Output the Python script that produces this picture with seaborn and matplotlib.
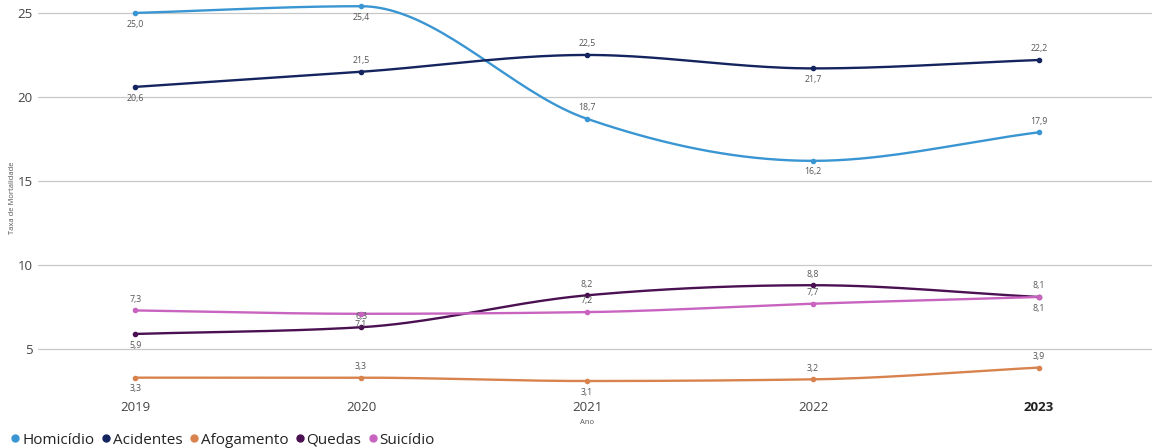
import numpy as np
import pandas as pd
import matplotlib.pyplot as plt
import seaborn as sns
from matplotlib.lines import Line2D

anos = [2019, 2020, 2021, 2022, 2023]
homicidio = [25.0, 25.4, 18.7, 16.2, 17.9]
acidentes = [20.6, 21.5, 22.5, 21.7, 22.2]
afogamento = [3.3, 3.3, 3.1, 3.2, 3.9]
quedas = [5.9, 6.3, 8.2, 8.8, 8.1]
suicidio = [7.3, 7.1, 7.2, 7.7, 8.1]

series = ["Homicídio", "Acidentes", "Afogamento", "Quedas", "Suicídio"]
cores = ["#3A96D2", "#14245E", "#D8834E", "#4A1052", "#C864C0"]
# +1 = rótulo acima do ponto, -1 = abaixo
lado = {
    "Homicídio": [-1, -1, 1, -1, 1],
    "Acidentes": [-1, 1, 1, -1, 1],
    "Afogamento": [-1, 1, -1, 1, 1],
    "Quedas": [-1, 1, 1, 1, 1],
    "Suicídio": [1, -1, 1, 1, -1],
}

df = pd.DataFrame({"Ano": anos, "Homicídio": homicidio, "Acidentes": acidentes,
                   "Afogamento": afogamento, "Quedas": quedas, "Suicídio": suicidio})


def monotone_curve(x, y, n=40):
    """Curva suave monotone-x (como o visual original), só para o traçado."""
    x = np.asarray(x, float)
    y = np.asarray(y, float)
    h = np.diff(x)
    d = np.diff(y) / h
    m = np.zeros_like(y)
    m[0], m[-1] = d[0], d[-1]
    for i in range(1, len(y) - 1):
        if d[i - 1] * d[i] <= 0:
            m[i] = 0
        else:
            m[i] = np.sign(d[i - 1]) * min(2 * abs(d[i - 1]), 2 * abs(d[i]),
                                           abs((h[i - 1] * d[i] + h[i] * d[i - 1]) / (h[i - 1] + h[i])))
    xs, ys = [], []
    for i in range(len(x) - 1):
        t = np.linspace(0, 1, n)
        h00 = 2 * t**3 - 3 * t**2 + 1
        h10 = t**3 - 2 * t**2 + t
        h01 = -2 * t**3 + 3 * t**2
        h11 = t**3 - t**2
        xs.append(x[i] + t * h[i])
        ys.append(h00 * y[i] + h10 * h[i] * m[i] + h01 * y[i + 1] + h11 * h[i] * m[i + 1])
    return np.concatenate(xs), np.concatenate(ys)


sns.set_style("white")
plt.rcParams["font.family"] = ["Open Sans", "DejaVu Sans"]

fig = plt.figure(figsize=(11.52, 4.48), dpi=100)
ax = fig.add_axes([0.033, 0.118, 0.967, 0.882])

for nome, cor in zip(series, cores):
    cx, cy = monotone_curve(df["Ano"], df[nome])
    sns.lineplot(x=cx, y=cy, ax=ax, color=cor, linewidth=1.7, sort=False)
    ax.scatter(df["Ano"], df[nome], color=cor, s=9, zorder=3)
    for xa, v, s in zip(df["Ano"], df[nome], lado[nome]):
        ax.annotate(f"{v:.1f}".replace(".", ","), (xa, v), xytext=(0, 8 * s),
                    textcoords="offset points", ha="center", va="center",
                    fontsize=6.3, color="#555555")

ax.set_xlim(2018.57, 2023.5)
ax.set_ylim(2.26, 25.77)
ax.set_yticks([5, 10, 15, 20, 25])
ax.set_xticks(anos)
ax.set_xticklabels([str(a) for a in anos])
ax.grid(axis="y", color="#C8C8C8", linewidth=0.9)
ax.set_axisbelow(True)
for sp in ax.spines.values():
    sp.set_visible(False)
ax.tick_params(axis="both", length=0, labelsize=9.5, colors="#444444", pad=4)
ax.get_xticklabels()[-1].set_fontweight("bold")
ax.get_xticklabels()[-1].set_color("#222222")

ax.set_xlabel("Ano", fontsize=5.5, color="#555555")
ax.xaxis.set_label_coords((2021 - 2018.57) / (2023.5 - 2018.57), -0.06)
ax.set_ylabel("Taxa de Mortalidade", fontsize=5.5, color="#555555")
ax.yaxis.set_label_coords(-0.02, 0.5)

handles = [Line2D([], [], marker="o", linestyle="", color=c, markersize=5) for c in cores]
fig.legend(handles, series, loc="lower left", bbox_to_anchor=(-0.004, -0.03), ncol=5,
           frameon=False, fontsize=11, handletextpad=0.05, columnspacing=0.35,
           handlelength=0.8, labelcolor="#222222")

fig.savefig("out.png", dpi=100)
